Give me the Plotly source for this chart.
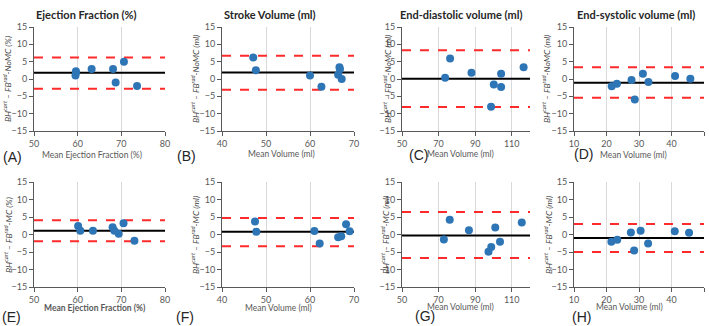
import plotly.graph_objects as go

W, H = 709, 326

panel_titles = ["Ejection Fraction (%)", "Stroke Volume (ml)",
                "End-diastolic volume (ml)", "End-systolic volume (ml)"]
x_titles_top = ["Mean Ejection Fraction (%)", "Mean Volume (ml)", "Mean Volume (ml)", "Mean Volume (ml)"]
x_titles_bot = ["<b>Mean Ejection Fraction (%)</b>", "Mean Volume (ml)", "Mean Volume (ml)", "Mean Volume (ml)"]
units = ["%", "ml", "ml", "ml"]
panel_labels = ["(A)", "(B)", "(C)", "(D)", "(E)", "(F)", "(G)", "(H)"]
x_ranges = [[50, 80], [40, 70], [50, 120], [10, 50]]
x_dticks = [10, 10, 20, 10]
y_range = [-15, 15]

# ---- BH-cart minus FB-rad NoMC (top row) ----
ef_nomc_mean = [59.6, 59.6, 59.5, 63.2, 68.1, 68.7, 70.6, 73.6]
ef_nomc_diff = [2.2, 1.7, 1.0, 2.9, 2.9, -1.0, 5.0, -2.0]
ef_nomc_bias, ef_nomc_upper, ef_nomc_lower = 1.8, 6.2, -2.8

sv_nomc_mean = [47.1, 47.7, 60.0, 62.6, 66.4, 66.7, 66.8, 67.2]
sv_nomc_diff = [6.2, 2.5, 1.0, -2.2, 1.25, 3.4, 2.8, 0.0]
sv_nomc_bias, sv_nomc_upper, sv_nomc_lower = 1.9, 6.7, -3.1

edv_nomc_mean = [73.6, 76.3, 88.0, 100.2, 104.2, 104.2, 98.7, 116.5]
edv_nomc_diff = [0.35, 5.9, 1.8, -1.6, 1.5, -2.3, -8.0, 3.4]
edv_nomc_bias, edv_nomc_upper, edv_nomc_lower = 0.1, 8.3, -8.1

esv_nomc_mean = [21.6, 23.2, 27.7, 28.7, 31.2, 32.9, 41.1, 45.8]
esv_nomc_diff = [-2.1, -1.35, -0.3, -5.9, 1.55, -0.9, 0.9, 0.1]
esv_nomc_bias, esv_nomc_upper, esv_nomc_lower = -1.05, 3.4, -5.4

# ---- BH-cart minus FB-rad MC (bottom row) ----
ef_mc_mean = [60.1, 60.6, 63.5, 68.0, 68.4, 69.4, 70.5, 73.0]
ef_mc_diff = [2.4, 1.1, 1.1, 2.1, 1.1, 0.2, 3.2, -1.8]
ef_mc_bias, ef_mc_upper, ef_mc_lower = 1.1, 4.1, -1.9

sv_mc_mean = [47.5, 47.8, 61.0, 62.2, 66.4, 67.1, 68.2, 69.0]
sv_mc_diff = [3.75, 0.8, 1.0, -2.6, -0.8, -0.5, 2.9, 0.9]
sv_mc_bias, sv_mc_upper, sv_mc_lower = 0.8, 4.7, -3.35

edv_mc_mean = [72.9, 76.1, 86.6, 97.3, 98.8, 101.0, 103.6, 115.5]
edv_mc_diff = [-1.45, 4.2, 1.2, -4.9, -3.55, 2.0, -2.1, 3.4]
edv_mc_bias, edv_mc_upper, edv_mc_lower = -0.3, 6.4, -6.7

esv_mc_mean = [21.5, 23.3, 27.5, 28.5, 30.5, 32.8, 41.0, 45.4]
esv_mc_diff = [-2.1, -1.5, 0.6, -4.6, 1.1, -2.6, 0.9, 0.5]
esv_mc_bias, esv_mc_upper, esv_mc_lower = -1.0, 3.0, -5.0

panels = [
    (ef_nomc_mean, ef_nomc_diff, ef_nomc_bias, ef_nomc_upper, ef_nomc_lower),
    (sv_nomc_mean, sv_nomc_diff, sv_nomc_bias, sv_nomc_upper, sv_nomc_lower),
    (edv_nomc_mean, edv_nomc_diff, edv_nomc_bias, edv_nomc_upper, edv_nomc_lower),
    (esv_nomc_mean, esv_nomc_diff, esv_nomc_bias, esv_nomc_upper, esv_nomc_lower),
    (ef_mc_mean, ef_mc_diff, ef_mc_bias, ef_mc_upper, ef_mc_lower),
    (sv_mc_mean, sv_mc_diff, sv_mc_bias, sv_mc_upper, sv_mc_lower),
    (edv_mc_mean, edv_mc_diff, edv_mc_bias, edv_mc_upper, edv_mc_lower),
    (esv_mc_mean, esv_mc_diff, esv_mc_bias, esv_mc_upper, esv_mc_lower),
]

# layout in pixels
col_px = [(34, 165), (222, 354), (402, 530), (574, 704)]
row_px = [(27, 131), (182, 287)]

FONT = "Lato, Open Sans, sans-serif"
TICK_COL = "#595959"
AX_COL = "#595959"
DOT = "#2E75B6"
RED = "#FF2A2A"

def px_x(v):
    return v / W

def px_y(v):
    return 1 - v / H

fig = go.Figure()
layout = {}
annotations = []

def add_text(text, x, y, size, color, family=FONT, angle=0):
    annotations.append(dict(text=text, x=px_x(x), y=px_y(y), xref="paper", yref="paper",
                            xanchor="center", yanchor="middle", showarrow=False,
                            textangle=angle, font=dict(size=size, color=color, family=family)))

for i, (xm, yd, bias, up, lo) in enumerate(panels):
    r, c = divmod(i, 4)
    n = i + 1
    xa = "x" if n == 1 else f"x{n}"
    ya = "y" if n == 1 else f"y{n}"
    xr = x_ranges[c]
    fig.add_trace(go.Scatter(x=xr, y=[up, up], mode="lines", xaxis=xa, yaxis=ya,
                             line=dict(color=RED, width=2, dash="dash"), hoverinfo="skip"))
    fig.add_trace(go.Scatter(x=xr, y=[lo, lo], mode="lines", xaxis=xa, yaxis=ya,
                             line=dict(color=RED, width=2, dash="dash"), hoverinfo="skip"))
    fig.add_trace(go.Scatter(x=xr, y=[bias, bias], mode="lines", xaxis=xa, yaxis=ya,
                             line=dict(color="black", width=2), hoverinfo="skip"))
    fig.add_trace(go.Scatter(x=xm, y=yd, mode="markers", xaxis=xa, yaxis=ya,
                             marker=dict(color=DOT, size=8)))

    x0, x1 = col_px[c]
    y0, y1 = row_px[r]
    kx = "xaxis" if n == 1 else f"xaxis{n}"
    ky = "yaxis" if n == 1 else f"yaxis{n}"
    layout[kx] = dict(domain=[px_x(x0), px_x(x1)], anchor=ya, range=xr, automargin=False,
                      tick0=xr[0], dtick=x_dticks[c], showgrid=True,
                      gridcolor="#d9d9d9", gridwidth=1, zeroline=False,
                      showline=True, linecolor=AX_COL, linewidth=1,
                      ticks="outside", ticklen=4, tickcolor=AX_COL,
                      tickfont=dict(size=9, color=TICK_COL, family=FONT))
    layout[ky] = dict(domain=[px_y(y1), px_y(y0)], anchor=xa, range=y_range, automargin=False,
                      tick0=-15, dtick=5, showgrid=False, zeroline=False,
                      showline=True, linecolor=AX_COL, linewidth=1,
                      ticks="outside", ticklen=4, tickcolor=AX_COL,
                      tickfont=dict(size=9, color=TICK_COL, family=FONT))

# panel titles (top)
title_cx = [86, 270, 461, 636]
for c in range(4):
    add_text(f"<b>{panel_titles[c]}</b>", title_cx[c], 15, 11, "#262626")

# x-axis titles
xt_top = [(92, 155), (281, 154), (460, 154), (633, 155)]
xt_bot = [(95, 308), (278, 308), (460, 307), (629, 307)]
for c in range(4):
    add_text(x_titles_top[c], xt_top[c][0], xt_top[c][1], 8.5, TICK_COL)
    add_text(x_titles_bot[c], xt_bot[c][0], xt_bot[c][1], 8.5, TICK_COL)

# y-axis titles
yt_x_top = [7, 195, 387, 546]
yt_x_bot = [8, 195, 385, 548]
for c in range(4):
    for xs, tag, yc in [(yt_x_top, "NoMC", 79), (yt_x_bot, "MC", 235)]:
        txt = f"<i>BH<sup>cart</sup> – FB<sup>rad</sup>-{tag} ({units[c]})</i>"
        add_text(txt, xs[c], yc, 8.5, "#404040", angle=-90)

# panel labels
lab_pos = [(12, 157), (186, 156), (418, 155), (583, 154),
           (11, 317), (185, 317), (425, 316), (581, 317)]
for k, (lx, ly) in enumerate(lab_pos):
    add_text(panel_labels[k], lx, ly, 14, "#262626", family="Liberation Sans, Arial")

fig.update_layout(width=W, height=H, margin=dict(l=0, r=0, t=0, b=0),
                  paper_bgcolor="white", plot_bgcolor="white", showlegend=False,
                  annotations=annotations, **layout)

fig.write_html("out.html", config={"displayModeBar": False},
               post_script="document.body.style.margin='0';")
